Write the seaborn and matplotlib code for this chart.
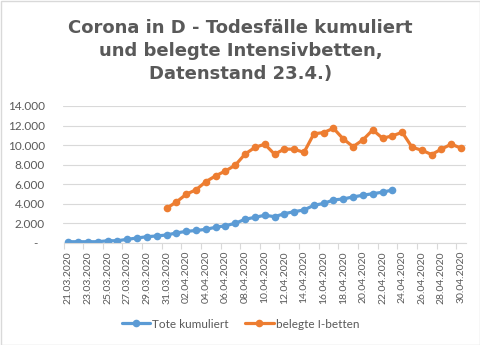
import matplotlib
matplotlib.use("Agg")
import matplotlib.pyplot as plt
from matplotlib.patches import Rectangle
from matplotlib.ticker import FuncFormatter, FixedLocator
import seaborn as sns
import pandas as pd
import numpy as np

# Reporting days 21.03.2020 - 30.04.2020
dates = pd.date_range("2020-03-21", "2020-04-30", freq="D")
date_labels = [d.strftime("%d.%m.%Y") for d in dates]

# Cumulative deaths (reported up to 23.04.)
tote_kumuliert = [100, 100, 100, 100, 200, 200, 350, 480, 615, 690,
                  790, 1000, 1160, 1250, 1370, 1580, 1740, 1990, 2400, 2600,
                  2810, 2665, 2970, 3180, 3350, 3830, 4020, 4380, 4480, 4690,
                  4860, 5020, 5170, 5400]
tote_start = 0

# Occupied intensive-care beds (from 31.03.)
belegte_ibetten = [3530, 4170, 4960, 5420, 6250, 6850, 7350, 7940, 9080, 9760,
                   10090, 9060, 9590, 9570, 9250, 11150, 11280, 11720, 10620, 9840,
                   10530, 11550, 10700, 10940, 11310, 9780, 9470, 9030, 9590, 10090,
                   9680]
betten_start = 10

series_names = ["Tote kumuliert", "belegte I-betten"]
colors = ["#5B9BD5", "#ED7D31"]

rows = []
for i, v in enumerate(tote_kumuliert):
    rows.append({"tag": tote_start + i, "wert": v, "reihe": series_names[0]})
for i, v in enumerate(belegte_ibetten):
    rows.append({"tag": betten_start + i, "wert": v, "reihe": series_names[1]})
df = pd.DataFrame(rows)

sns.set_theme(style="white")
plt.rcParams["font.family"] = ["Lato", "DejaVu Sans"]

fig = plt.figure(figsize=(4.81, 3.45), dpi=100)
ax = fig.add_axes([63.5 / 481, 1 - 242.7 / 345, (466 - 63.5) / 481, (242.7 - 106) / 345])

sns.lineplot(data=df, x="tag", y="wert", hue="reihe", hue_order=series_names,
             palette=colors, marker="o", markersize=5.5, markeredgewidth=0,
             linewidth=2.3, ax=ax)

grid_c = "#D9D9D9"
text_c = "#595959"

ax.set_xlim(-0.5, len(dates) - 0.5)
ax.set_ylim(0, 14000)
ax.set_yticks(np.arange(0, 14001, 2000))
ax.yaxis.set_major_formatter(FuncFormatter(
    lambda v, p: "-  " if v == 0 else f"{int(v):,}".replace(",", ".")))
ax.grid(axis="y", color=grid_c, linewidth=0.8)
ax.set_axisbelow(True)

ax.set_xticks(range(0, len(dates), 2))
ax.set_xticklabels(date_labels[::2], rotation=90)
ax.xaxis.set_minor_locator(FixedLocator(np.arange(-0.5, len(dates), 2)))
ax.tick_params(axis="x", which="major", length=0, pad=6, labelsize=7.5, labelcolor=text_c)
ax.tick_params(axis="x", which="minor", length=4, width=0.8, color=grid_c, bottom=True)
ax.tick_params(axis="y", length=0, pad=13.5, labelsize=8.5, labelcolor=text_c)

for s in ["top", "right", "left"]:
    ax.spines[s].set_visible(False)
ax.spines["bottom"].set_color(grid_c)
ax.spines["bottom"].set_linewidth(0.8)
ax.set_xlabel("")
ax.set_ylabel("")

handles, labels = ax.get_legend_handles_labels()
ax.legend(handles, labels, loc="center", bbox_to_anchor=(0.5, 1 - 324 / 345),
          bbox_transform=fig.transFigure, ncol=2, frameon=False, fontsize=8.5,
          handlelength=2.4, handletextpad=0.2, columnspacing=1.4, labelcolor=text_c)

fig.text(0.5, 1 - 51 / 345,
         "Corona in D - Todesfälle kumuliert\nund belegte Intensivbetten,\nDatenstand 23.4.)",
         ha="center", va="center", fontsize=13, fontweight="heavy", color=text_c,
         linespacing=1.35, family=["DejaVu Sans"])

fig.patches.append(Rectangle((0.5 / 481, 0.5 / 345), 1 - 1 / 481, 1 - 1 / 345,
                             transform=fig.transFigure, fill=False,
                             edgecolor=grid_c, linewidth=1))

fig.savefig("out.png", dpi=100)
